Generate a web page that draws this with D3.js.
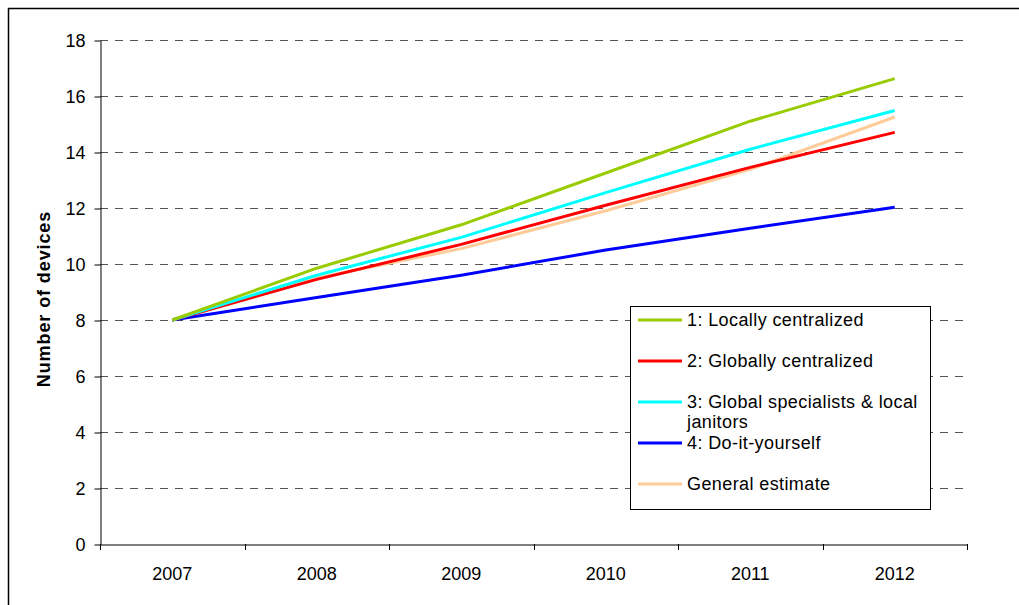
<!DOCTYPE html>
<html>
<head>
<meta charset="utf-8">
<script src="https://cdn.jsdelivr.net/npm/d3@7"></script>
<style>
  body { margin: 0; background: #fff; }
  svg { font-family: "Liberation Sans", Arial, sans-serif; }
</style>
</head>
<body>
<svg id="chart"></svg>
<script>
// Chart data
const years = ["2007", "2008", "2009", "2010", "2011", "2012"];
const yTicks = [0, 2, 4, 6, 8, 10, 12, 14, 16, 18];
const seriesNames = [
  "1: Locally centralized",
  "2: Globally centralized",
  "3: Global specialists & local janitors",
  "4: Do-it-yourself",
  "General estimate"
];
const locallyCentralized = [8, 9.85, 11.4, 13.25, 15.1, 16.62];
const globallyCentralized = [8, 9.45, 10.7, 12.1, 13.45, 14.7];
const globalSpecialists = [8, 9.6, 10.95, 12.55, 14.1, 15.48];
const doItYourself = [8, 8.8, 9.6, 10.5, 11.28, 12.03];
const generalEstimate = [8, 9.5, 10.55, 11.9, 13.38, 15.25];
const colors = ["#99cc00", "#ff0000", "#00ffff", "#0000ff", "#ffcc99"];

const allSeries = [locallyCentralized, globallyCentralized, globalSpecialists, doItYourself, generalEstimate];
// draw order: general estimate below the others
const drawOrder = [4, 3, 1, 2, 0];

const width = 1019, height = 605;
const margin = {top: 40, bottom: 61, left: 100, right: 52};

const svg = d3.select("#chart")
    .attr("width", width)
    .attr("height", height);

// outer frame
svg.append("rect")
    .attr("x", 8.5).attr("y", 8.5)
    .attr("width", 1030).attr("height", 640)
    .attr("fill", "none")
    .attr("stroke", "#000")
    .attr("stroke-width", 1.5);

const xScale = d3.scaleBand()
    .domain(years)
    .range([margin.left, width - margin.right]);

const yScale = d3.scaleLinear()
    .domain([0, 18])
    .range([height - margin.bottom, margin.top]);

// dashed gridlines
svg.append("g")
    .selectAll("line")
    .data(yTicks.filter(d => d > 0))
    .enter().append("line")
    .attr("x1", margin.left)
    .attr("x2", width - margin.right)
    .attr("y1", d => Math.round(yScale(d)) + 0.5)
    .attr("y2", d => Math.round(yScale(d)) + 0.5)
    .attr("stroke", "#555")
    .attr("stroke-width", 1)
    .attr("stroke-dasharray", "8,7");

// y axis
const yAxis = svg.append("g")
    .attr("transform", `translate(${margin.left + 0.5},0.5)`)
    .call(d3.axisLeft(yScale).tickValues(yTicks).tickSize(6).tickPadding(9).tickSizeOuter(0));
yAxis.selectAll("text").attr("font-size", 18).attr("fill", "#000").attr("font-family", "Liberation Sans, Arial, sans-serif");
yAxis.selectAll("line, path").attr("stroke", "#000");

// x axis with tick marks at band edges
const xAxis = svg.append("g")
    .attr("transform", `translate(0,${height - margin.bottom + 0.5})`)
    .call(d3.axisBottom(xScale).tickSize(0).tickPadding(23).tickSizeOuter(0));
xAxis.selectAll("text").attr("font-size", 18).attr("fill", "#000").attr("font-family", "Liberation Sans, Arial, sans-serif");
xAxis.select("path").attr("stroke", "#000");

const edges = years.map(y => xScale(y)).concat([width - margin.right]);
svg.append("g")
    .selectAll("line")
    .data(edges)
    .enter().append("line")
    .attr("x1", d => Math.round(d) + 0.5)
    .attr("x2", d => Math.round(d) + 0.5)
    .attr("y1", height - margin.bottom)
    .attr("y2", height - margin.bottom + 6)
    .attr("stroke", "#000");

// y axis title
svg.append("text")
    .attr("transform", `translate(50,${(margin.top + height - margin.bottom) / 2 + 7}) rotate(-90)`)
    .attr("text-anchor", "middle")
    .attr("font-size", 18)
    .attr("font-weight", "bold")
    .attr("letter-spacing", 0.9)
    .text("Number of devices");

// lines
const line = d3.line()
    .x((d, i) => xScale(years[i]) + xScale.bandwidth() / 2)
    .y(d => yScale(d));

svg.append("g")
    .selectAll("path")
    .data(drawOrder)
    .enter().append("path")
    .attr("d", i => line(allSeries[i]))
    .attr("fill", "none")
    .attr("stroke", i => colors[i])
    .attr("stroke-width", 3)
    .attr("stroke-linejoin", "round");

// legend
const legend = svg.append("g").attr("transform", "translate(630,306)");
legend.append("rect")
    .attr("x", 0.5).attr("y", 0.5)
    .attr("width", 300).attr("height", 203)
    .attr("fill", "#fff")
    .attr("stroke", "#000");

const legendY = [14, 55, 96, 137, 178];
seriesNames.forEach((name, i) => {
    const g = legend.append("g").attr("transform", `translate(0,${legendY[i]})`);
    g.append("line")
        .attr("x1", 8).attr("x2", 52)
        .attr("y1", 0).attr("y2", 0)
        .attr("stroke", colors[i])
        .attr("stroke-width", 3);
    const t = g.append("text")
        .attr("x", 57)
        .attr("y", 6)
        .attr("font-size", 18)
        .attr("letter-spacing", 0.4);
    if (i === 2) {
        t.append("tspan").text("3: Global specialists & local");
        t.append("tspan").attr("x", 57).attr("dy", 20).text("janitors");
    } else {
        t.text(name);
    }
});
</script>
</body>
</html>
